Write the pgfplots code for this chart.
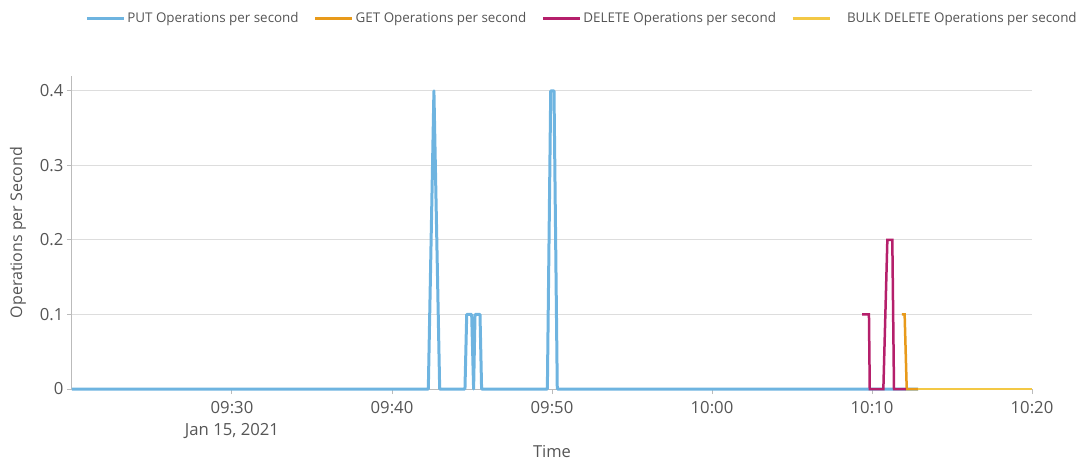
\documentclass[border=0pt]{standalone}
\usepackage{pgfplots}
\pgfplotsset{compat=1.18}
\usepackage{fontspec}
\setmainfont{Open Sans}
\definecolor{txt}{HTML}{555555}
\definecolor{putc}{HTML}{6EB4E0}
\definecolor{getc}{HTML}{E89A1A}
\definecolor{delc}{HTML}{B51F6B}
\definecolor{bulkc}{HTML}{F3C845}
\definecolor{gridc}{HTML}{DDDDDD}
\definecolor{axc}{HTML}{BBBBBB}
\begin{document}
\begin{tikzpicture}
\begin{axis}[
  scale only axis, width=960pt, height=313pt,
  xmin=20, xmax=80, ymin=0, ymax=0.42,
  axis x line=bottom, axis y line=left,
  axis line style={axc, line width=1pt, -},
  xtick={30,40,50,60,70,80},
  xticklabels={{09:30\\Jan 15, 2021},09:40,09:50,10:00,10:10,10:20},
  ytick={0,0.1,0.2,0.3,0.4},
  yticklabels={0,0.1,0.2,0.3,0.4},
  tick align=outside, major tick length=5pt,
  tick style={axc, line width=1pt},
  xticklabel style={align=center, font=\fontsize{16.7}{22}\selectfont, text=txt, yshift=-4pt},
  yticklabel style={font=\fontsize{16.7}{19}\selectfont, text=txt},
  ymajorgrids, grid style={gridc, line width=1pt},
  xlabel={Time}, ylabel={Operations per Second},
  xlabel style={font=\fontsize{16.5}{19}\selectfont, text=txt, yshift=0pt},
  ylabel style={font=\fontsize{16}{19}\selectfont, text=txt, yshift=7pt},
  legend columns=4,
  legend style={draw=none, fill=none, at={(1.052,1.217)}, anchor=north east,
    font=\fontsize{13.4}{16}\selectfont, text=txt,
    /tikz/every even column/.append style={column sep=13pt}},
  legend image code/.code={\draw[#1, line width=3pt] (0pt,0pt) -- (37pt,0pt);},
  clip=false,
]
\addplot[putc, line width=3pt, line join=round] coordinates {
 (20,0) (42.27,0) (42.62,0.4) (42.98,0) (44.56,0) (44.67,0.1) (44.98,0.1) (45.1,0)
 (45.19,0.1) (45.5,0.1) (45.6,0) (49.71,0) (49.92,0.4) (50.125,0.4) (50.33,0) (72.875,0)};
\addlegendentry{PUT Operations per second}
\addplot[getc, line width=2.5pt] coordinates {
 (71.86,0.1) (72.04,0.1) (72.17,0) (72.875,0)};
\addlegendentry{GET Operations per second}
\addplot[delc, line width=2.5pt] coordinates {
 (69.39,0.1) (69.81,0.1) (69.86,0) (70.71,0) (70.96,0.2) (71.27,0.2) (71.375,0) (72.11,0)};
\addlegendentry{DELETE Operations per second}
\addplot[bulkc, line width=2.5pt] coordinates {(72.875,0) (80,0)};
\addlegendentry{\hspace*{14pt}BULK DELETE Operations per second}
\end{axis}
\path[use as bounding box] (-72pt,-68pt) rectangle (1018pt,389pt);
\end{tikzpicture}
\end{document}
